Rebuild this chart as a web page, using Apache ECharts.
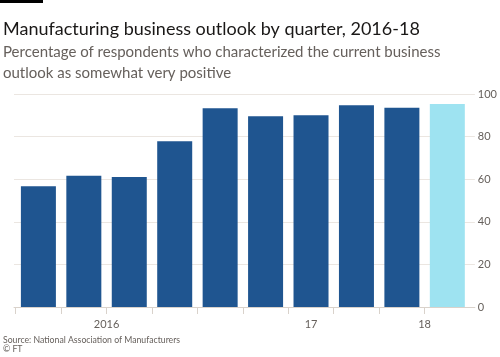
<!DOCTYPE html>
<html>
<head>
<meta charset="utf-8">
<script src="https://cdn.jsdelivr.net/npm/echarts@6/dist/echarts.min.js"></script>
<style>
html,body{margin:0;padding:0;background:#fff;}
#chart{width:500px;height:357px;}
</style>
</head>
<body>
<div id="chart"></div>
<script>
// Data
var categories = ['2016 Q1','2016 Q2','2016 Q3','2016 Q4','2017 Q1','2017 Q2','2017 Q3','2017 Q4','2018 Q1','2018 Q2'];
var values = [56.7, 61.6, 61.0, 77.8, 93.3, 89.5, 90.0, 94.7, 93.6, 95.3];
var tickLabels = ['2016', '17', '18'];
var tickLabelAt = [1.5, 6, 8.5]; // in category-index units
var yTicks = [0, 20, 40, 60, 80, 100];

var titleText = 'Manufacturing business outlook by quarter, 2016-18';
var subtitleText = 'Percentage of respondents who characterized the current business\noutlook as somewhat very positive';
var sourceText = 'Source: National Association of Manufacturers';
var creditText = '© FT';

var DARK = '#1f5590';
var LIGHT = '#9ee3f1';
var FONT = 'Lato';

var chart = echarts.init(document.getElementById('chart'));
var boundaries = categories.map(function (c, i) { return i - 0.5; });

chart.setOption({
  backgroundColor: '#ffffff',
  animation: false,
  textStyle: { fontFamily: FONT },
  graphic: [{ type: 'rect', left: 0, top: 0, shape: { width: 43, height: 3 }, style: { fill: '#000' } }],
  title: [
    { text: titleText, left: -2, top: 15, textStyle: { fontFamily: FONT, fontSize: 18, fontWeight: 'normal', color: '#1a1817' } },
    { text: subtitleText, left: -2, top: 37, textStyle: { fontFamily: FONT, fontSize: 15, fontWeight: 'normal', color: '#66605c', lineHeight: 21 } },
    { text: sourceText + '\n' + creditText, left: -2, top: 331, textStyle: { fontFamily: FONT, fontSize: 8.7, fontWeight: 'normal', color: '#66605c', lineHeight: 9 } }
  ],
  grid: { left: 14, right: 23, top: 94, bottom: 50, containLabel: false },
  xAxis: {
    type: 'value',
    min: -0.537,
    max: 9.606,
    splitLine: { show: false },
    axisLine: { show: true, lineStyle: { color: '#d9d2cb', width: 1 } },
    axisTick: { show: true, length: 7, customValues: boundaries, lineStyle: { color: '#d9d2cb' } },
    axisLabel: {
      customValues: tickLabelAt,
      margin: 12,
      fontSize: 11,
      color: '#66605c',
      fontFamily: FONT,
      formatter: function (v) {
        var idx = tickLabelAt.indexOf(v);
        return idx >= 0 ? tickLabels[idx] : '';
      }
    }
  },
  yAxis: {
    type: 'value',
    position: 'right',
    min: 0,
    max: 100,
    interval: 20,
    axisLine: { show: false },
    axisTick: { show: false },
    axisLabel: { margin: 3, fontSize: 11, color: '#66605c', fontFamily: FONT },
    splitLine: { lineStyle: { color: '#ebe6e1', width: 1 } }
  },
  series: [{
    type: 'bar',
    barWidth: 35,
    data: values.map(function (v, i) { return [i, v]; }),
    itemStyle: {
      color: function (p) { return p.dataIndex === values.length - 1 ? LIGHT : DARK; }
    }
  }]
});
</script>
</body>
</html>
